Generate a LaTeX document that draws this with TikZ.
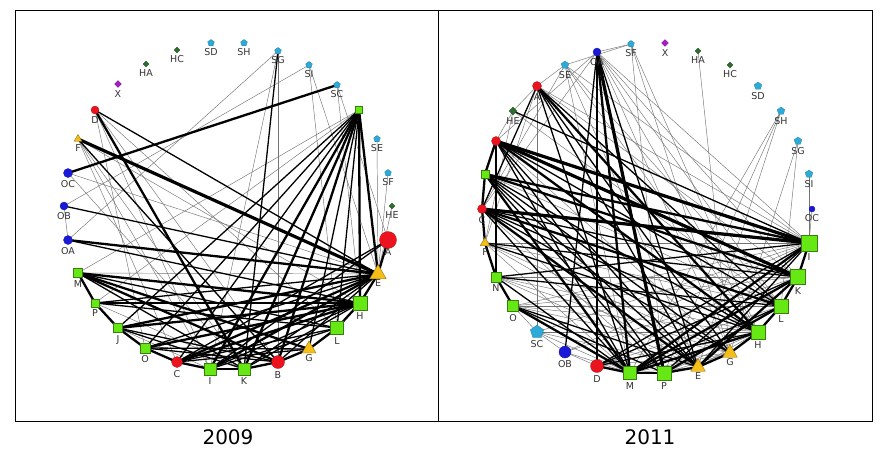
\documentclass[tikz,border=0pt]{standalone}
\usepackage{fontspec}
\setmainfont{DejaVu Sans}
\usetikzlibrary{shapes.geometric,backgrounds}
\definecolor{ngreen}{RGB}{102,232,20}
\definecolor{nred}{RGB}{235,20,30}
\definecolor{nblue}{RGB}{25,25,215}
\definecolor{ncyan}{RGB}{45,170,215}
\definecolor{ndkgreen}{RGB}{45,110,45}
\definecolor{npurple}{RGB}{165,30,195}
\definecolor{nyellow}{RGB}{245,190,25}
\tikzset{
  gsq/.style={rectangle,minimum size=#1,inner sep=0pt,fill=ngreen,draw=ngreen!55!black,line width=.3pt},
  rci/.style={circle,minimum size=#1,inner sep=0pt,fill=nred,draw=nred!75!black,line width=.3pt},
  bci/.style={circle,minimum size=#1,inner sep=0pt,fill=nblue,draw=nblue!75!black,line width=.3pt},
  cpe/.style={regular polygon,regular polygon sides=5,minimum size=#1,inner sep=0pt,fill=ncyan,draw=ncyan!75!black,line width=.3pt},
  dgd/.style={diamond,minimum size=#1,inner sep=0pt,fill=ndkgreen,draw=ndkgreen!75!black,line width=.3pt},
  ppl/.style={diamond,minimum size=#1,inner sep=0pt,fill=npurple,draw=npurple!75!black,line width=.3pt},
  ytr/.style={regular polygon,regular polygon sides=3,minimum size=#1,inner sep=0pt,fill=nyellow,draw=nyellow!60!black,line width=.4pt},
  every label/.style={font=\fontsize{9.5}{10}\selectfont,text=black!80,inner sep=1pt},
  thn/.style={draw=black!55,line width=0.45pt},
  med/.style={draw=black,line width=1.3pt},
  thk/.style={draw=black,line width=2.3pt},
  vth/.style={draw=black,line width=3.2pt},
  frm/.style={draw=black,line width=0.6pt},
  yr/.style={font=\fontsize{20}{22}\selectfont},
}
\begin{document}
\begin{tikzpicture}[x=1pt,y=-1pt,label distance=1.5pt]
\useasboundingbox (0,0) rectangle (888,459);
\draw[frm] (15,10) rectangle (872,421);
\draw[frm] (438,10) -- (438,421);
\node[yr] (y1) at (228,437) {2009};
\node[yr] (y2) at (650,437) {2011};
% ---------- 2009 nodes
\node[dgd=6,label=below:HA] (l-HA) at (146,64) {};
\node[dgd=6,label=below:HC] (l-HC) at (177,50) {};
\node[cpe=7,label=below:SD] (l-SD) at (211,43) {};
\node[cpe=7,label=below:SH] (l-SH) at (244,43) {};
\node[cpe=7,label=below:SG] (l-SG) at (278,51) {};
\node[cpe=7,label=below:SI] (l-SI) at (309,65) {};
\node[cpe=7,label=below:SC] (l-SC) at (337,85) {};
\node[gsq=7] (l-N) at (359,110) {};
\node[cpe=7,label=below:SE] (l-SE) at (377,139) {};
\node[cpe=7,label=below:SF] (l-SF) at (388,173) {};
\node[dgd=6,label=below:HE] (l-HE) at (392,206) {};
\node[rci=17,label={[label distance=-1pt]below:A}] (l-A) at (388,240) {};
\node[ytr=19,label={[label distance=-1pt]below:E}] (l-E) at (378,274) {};
\node[gsq=14,label=below:H] (l-H) at (360,303) {};
\node[gsq=13,label=below:L] (l-L) at (337,328) {};
\node[ytr=16,label={[label distance=0pt]below:G}] (l-G) at (309,349) {};
\node[rci=13,label=below:B] (l-B) at (278,362) {};
\node[gsq=12,label=below:K] (l-K) at (244,369) {};
\node[gsq=12,label=below:I] (l-I) at (210,369) {};
\node[rci=11,label=below:C] (l-C) at (177,362) {};
\node[gsq=10,label=below:O] (l-O) at (145,348) {};
\node[gsq=9,label=below:J] (l-J) at (118,328) {};
\node[gsq=8,label=below:P] (l-P) at (95,303) {};
\node[gsq=9,label=below:M] (l-M) at (78,273) {};
\node[bci=9,label=below:OA] (l-OA) at (68,240) {};
\node[bci=8,label=below:OB] (l-OB) at (64,206) {};
\node[bci=9,label=below:OC] (l-OC) at (68,173) {};
\node[ytr=9,label=below:F] (l-F) at (78,139) {};
\node[rci=8,label=below:D] (l-D) at (95,110) {};
\node[ppl=7,label=below:X] (l-X) at (118,84) {};
% ---------- 2011 nodes
\node[bci=8,label=below:OA] (r-OA) at (597,52) {};
\node[cpe=7,label=below:SF] (r-SF) at (631,44) {};
\node[ppl=7,label=below:X] (r-X) at (665,43) {};
\node[dgd=6,label=below:HA] (r-HA) at (698,51) {};
\node[dgd=6,label=below:HC] (r-HC) at (730,65) {};
\node[cpe=8,label=below:SD] (r-SD) at (758,86) {};
\node[cpe=8,label=below:SH] (r-SH) at (781,111) {};
\node[cpe=8,label=below:SG] (r-SG) at (798,141) {};
\node[cpe=8,label=below:SI] (r-SI) at (809,174) {};
\node[bci=6,label=below:OC] (r-OC) at (812,209) {};
\node[gsq=16,label=below:I] (r-I) at (809,243) {};
\node[gsq=15,label=below:K] (r-K) at (798,277) {};
\node[gsq=14,label=below:L] (r-L) at (781,306) {};
\node[gsq=14,label=below:H] (r-H) at (758,332) {};
\node[ytr=17,label={[label distance=0pt]below:G}] (r-G) at (730,353) {};
\node[ytr=17,label={[label distance=0pt]below:E}] (r-E) at (698,367) {};
\node[gsq=14,label=below:P] (r-P) at (664,373) {};
\node[gsq=13,label=below:M] (r-M) at (630,373) {};
\node[rci=13,label=below:D] (r-D) at (597,366) {};
\node[bci=12,label=below:OB] (r-OB) at (565,352) {};
\node[cpe=14,label=below:SC] (r-SC) at (537,332) {};
\node[gsq=11,label=below:O] (r-O) at (513,306) {};
\node[gsq=10,label=below:N] (r-N) at (496,277) {};
\node[ytr=11,label=below:F] (r-F) at (485,243) {};
\node[rci=9,label=below:C] (r-C) at (482,209) {};
\node[gsq=8] (r-g) at (485,174) {};
\node[rci=9] (r-r) at (496,141) {};
\node[dgd=8,label=below:HE] (r-HE) at (513,111) {};
\node[rci=9,label=below:A] (r-A) at (537,86) {};
\node[cpe=8,label=below:SE] (r-SE) at (565,65) {};
% ---------- edges
\begin{scope}[on background layer]
% 2009 thin
\foreach \a/\b in {OA/SG,OB/SI,OB/OA,OC/E,D/I,D/B,D/O,F/C,F/I,F/H,SG/B,SG/I,SI/E,SI/L,SC/A,SE/E,SF/E,HE/E,N/P,N/M,M/E,P/K,J/I,D/L,F/K,OC/K,SC/H}
  \draw[thn] (l-\a.center) -- (l-\b.center);
% 2009 medium
\foreach \a/\b in {OB/E,OA/H,D/E,F/B,N/C,N/G,N/J,N/L,SG/K,M/L,M/K,P/E,P/L,J/B,J/K,O/B,O/G,C/L,I/L,I/H,K/H,K/E,B/E,O/E,C/G,N/O,I/A,C/A}
  \draw[med] (l-\a.center) -- (l-\b.center);
% 2009 thick
\foreach \a/\b in {OC/SC,D/K,OA/E,M/H,M/G,M/B,P/H,J/E,O/H,C/E,C/H,I/E,N/K,N/I,N/H,N/B,N/E,J/H,M/P,P/J,J/O,O/C,C/I,I/K,K/B,B/G,G/L,L/H,H/E,E/A}
  \draw[thk] (l-\a.center) -- (l-\b.center);
\draw[vth] (l-F.center) -- (l-E.center);
% 2011 thin
\foreach \a/\b in {SE/A,A/HE,HE/r,SE/M,SE/E,SE/I,SF/P,SF/G,SF/H,HA/G,SH/M,SH/E,SH/P,SG/G,SG/L,OC/I,OA/K,OA/L,OA/I,OA/r,OA/C,A/SC,O/I,O/K,O/L,O/H,O/G,SC/I,SC/H,SC/E,SC/M,OB/I,OB/K,D/L,D/G,N/K,N/H,N/G,N/E,F/I,F/L,F/G,F/E,F/M,C/P,g/L,r/G,OB/M,SC/O,SC/OB,OB/D,HE/F,SE/C,A/F,P/G,M/E,P/H,M/G,E/H,OA/H,OA/G,SE/L,A/K,A/I,SE/SF,SI/I,OA/SF,HE/L,SE/H}
  \draw[thn] (r-\a.center) -- (r-\b.center);
% 2011 medium
\foreach \a/\b in {r/L,r/E,r/P,r/N,g/H,g/E,g/P,g/G,C/K,C/H,C/G,C/M,F/K,F/H,N/I,N/L,N/M,OA/D,OA/E,A/M,A/E,A/G,I/P,I/E,I/D,K/D,L/M,H/D,O/P,O/E,r/M,HE/I,A/C,OA/OB,A/L}
  \draw[med] (r-\a.center) -- (r-\b.center);
% 2011 thick
\foreach \a/\b in {r/I,C/I,g/I,r/H,C/L,r/K,g/K,OA/P,OA/M,A/H,C/E,g/M,r/g,g/C,C/F,F/N,N/O,I/K,K/L,L/H,H/G,G/E,E/P,P/M,M/D,I/M,K/M,K/E,L/P,H/M,O/M}
  \draw[thk] (r-\a.center) -- (r-\b.center);
\foreach \a/\b in {r/I,C/I,OA/P,r/K}
  \draw[vth] (r-\a.center) -- (r-\b.center);
\end{scope}
\end{tikzpicture}
\end{document}
